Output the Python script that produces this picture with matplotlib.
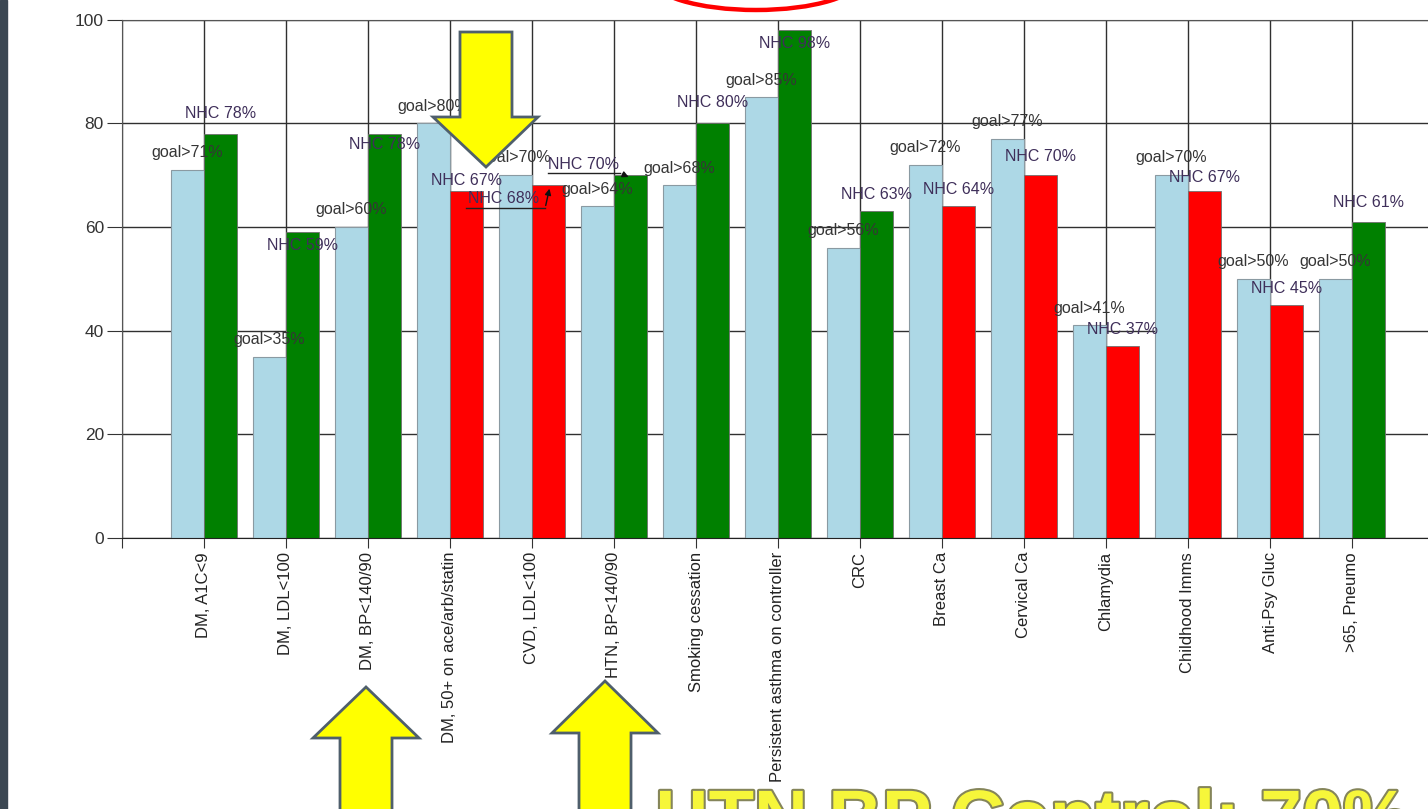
import numpy as np
import matplotlib
matplotlib.use("Agg")
import matplotlib.pyplot as plt
from matplotlib.patches import Polygon, Ellipse, Rectangle
import matplotlib.patheffects as pe

plt.rcParams['font.family'] = ['Liberation Sans', 'DejaVu Sans']

# Data
measures = ["DM, A1C<9", "DM, LDL<100", "DM, BP<140/90", "DM, 50+ on ace/arb/statin",
            "CVD, LDL<100", "HTN, BP<140/90", "Smoking cessation",
            "Persistent asthma on controller", "CRC", "Breast Ca", "Cervical Ca",
            "Chlamydia", "Childhood Imms", "Anti-Psy Gluc", ">65, Pneumo"]
goal = [71, 35, 60, 80, 70, 64, 68, 85, 56, 72, 77, 41, 70, 50, 50]
nhc = [78, 59, 78, 67, 68, 70, 80, 98, 63, 64, 70, 37, 67, 45, 61]

# label nudges (data units above bar top), None = label with leader line
nhc_dy = [3.8, -2.5, -2.2, 2.0, None, None, 3.9, -2.7, 3.2, 3.3, 3.5, 3.3, 2.6, 3.2, 3.8]

W, H = 1428, 809
fig = plt.figure(figsize=(W / 100, H / 100), dpi=100)

def px(x, y):
    # pixel position on the slide -> figure fraction
    return (x / W, 1 - y / H)

ax = fig.add_axes([122 / W, 1 - 538 / H, (1434 - 122) / W, (538 - 19.5) / H])

x = np.arange(1, len(measures) + 1)
bar_cols = ['#008000' if n >= g else '#ff0000' for n, g in zip(nhc, goal)]

ax.bar(x - 0.2, goal, width=0.4, color='#add8e6', edgecolor='#8a9aa2', linewidth=0.8, zorder=2)
ax.bar(x + 0.2, nhc, width=0.4, color=bar_cols, edgecolor='#707070', linewidth=0.6, zorder=2)

goal_col = '#353535'
nhc_col = '#3f2f5a'
fs = 11.5
for xi, g in zip(x, goal):
    ax.text(xi - 0.2, g + 3.3, "goal>%d%%" % g, ha='center', va='center',
            fontsize=fs, color=goal_col, zorder=4)
for xi, n, dy in zip(x, nhc, nhc_dy):
    if dy is None:
        continue
    ax.text(xi + 0.2, n + dy, "NHC %d%%" % n, ha='center', va='center',
            fontsize=fs, color=nhc_col, zorder=4)

# labels with leader lines (CVD and HTN)
ax.text(4.65, 65.4, "NHC %d%%" % nhc[4], ha='center', va='center', fontsize=fs, color=nhc_col, zorder=4)
ax.plot([4.195, 5.16], [63.6, 63.6], color='#222222', lw=1.0, zorder=4)
ax.annotate("", xy=(5.22, 67.9), xytext=(5.16, 63.6),
            arrowprops=dict(arrowstyle='-|>', color='#111111', lw=1.0, mutation_scale=9), zorder=4)
ax.text(5.63, 72.1, "NHC %d%%" % nhc[5], ha='center', va='center', fontsize=fs, color=nhc_col, zorder=4)
ax.plot([5.195, 6.07], [70.4, 70.4], color='#222222', lw=1.0, zorder=4)
ax.annotate("", xy=(6.21, 69.4), xytext=(6.07, 70.4),
            arrowprops=dict(arrowstyle='-|>', color='#111111', lw=1.0, mutation_scale=9), zorder=4)

ax.set_xlim(0, 16)
ax.set_ylim(0, 100)
ax.set_xticks(range(0, 16))
ax.set_xticklabels([''] + measures, rotation=90, fontsize=12, color='#222222')
ax.set_yticks([0, 20, 40, 60, 80, 100])
ax.tick_params(axis='y', labelsize=12.5, length=11, pad=2, colors='#333333')
ax.tick_params(axis='x', length=7, pad=3, color='#333333')
ax.set_axisbelow(True)
ax.grid(True, color='#303030', linewidth=1.0)
for s in ['left', 'top', 'bottom']:
    ax.spines[s].set_color('#555555')
ax.spines['bottom'].set_color('#222222')
ax.spines['right'].set_visible(False)

# slide decorations
fig.add_artist(Rectangle(px(0, 809), 7 / W, 1, transform=fig.transFigure,
                         color='#3b4752', zorder=10))
fig.add_artist(Ellipse(px(756, -22), 210 / W, 64 / H, transform=fig.transFigure,
                       fill=False, edgecolor='#ff0000', lw=3.2, zorder=10))

arrow_kw = dict(closed=True, facecolor='#ffff00', edgecolor='#4f5f6c', lw=2.0,
                transform=fig.transFigure, zorder=11)
down = [(460, 32), (512, 32), (512, 117), (538, 117), (486, 167), (433, 117), (460, 117)]
fig.add_artist(Polygon([px(a, b) for a, b in down], **arrow_kw))
for tip_x, tip_y, base_y in [(366, 687, 738), (605, 681, 733)]:
    up = [(tip_x, tip_y), (tip_x + 53, base_y), (tip_x + 26, base_y), (tip_x + 26, 830),
          (tip_x - 26, 830), (tip_x - 26, base_y), (tip_x - 53, base_y)]
    fig.add_artist(Polygon([px(a, b) for a, b in up], **arrow_kw))

fig.text(*px(655, 842), "HTN BP Control: 70%", fontsize=53.5, fontweight='bold',
         color='#f6f63a', ha='left', va='baseline', zorder=12,
         path_effects=[pe.withStroke(linewidth=3, foreground='#85855a')])

plt.savefig("out.png", dpi=100)
